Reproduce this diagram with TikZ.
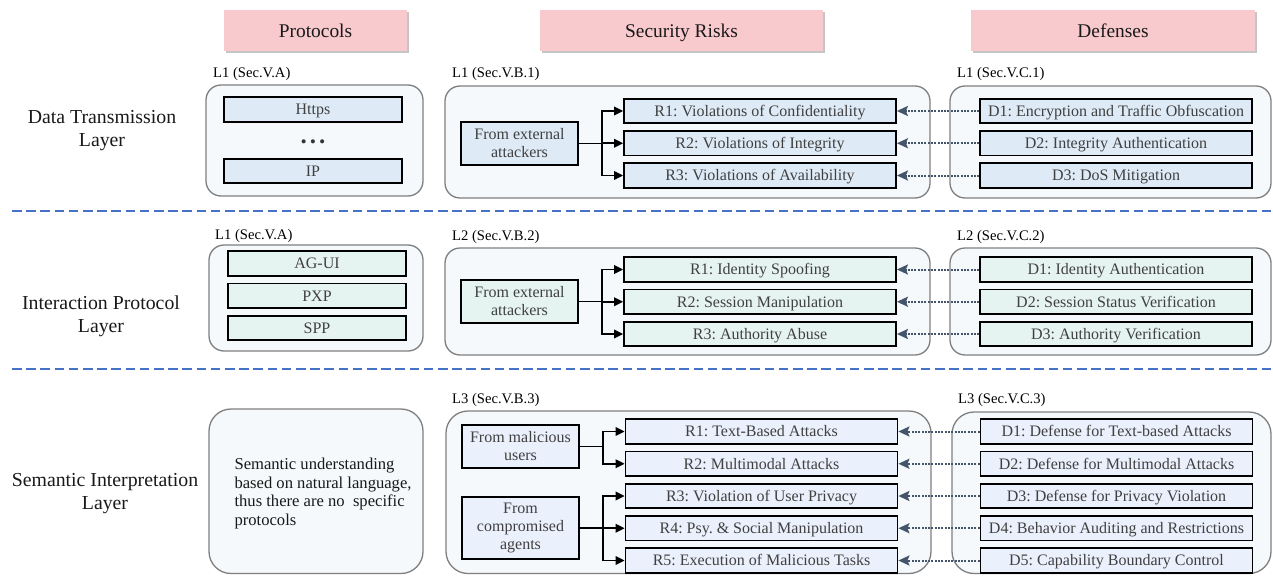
\documentclass[tikz,border=0pt]{standalone}
\usepackage{fontspec}
\setmainfont{Liberation Serif}
\usepackage{xcolor}
\usepackage{tikz}
\usetikzlibrary{arrows.meta}
\usetikzlibrary{shadows}
\frenchspacing

\definecolor{headpink}{HTML}{F8C9CD}
\definecolor{fillA}{HTML}{DEEBF7}
\definecolor{fillB}{HTML}{E6F4F1}
\definecolor{fillC}{HTML}{EAF0FC}
\definecolor{grpfill}{HTML}{F5F9FC}
\definecolor{grpline}{HTML}{7F7F7F}
\definecolor{txtgray}{HTML}{404040}
\definecolor{slate}{HTML}{44546A}
\definecolor{sepblue}{HTML}{4472C4}

\newcommand{\boxfont}{\fontsize{16}{18}\selectfont}
\newcommand{\headfont}{\fontsize{19.4}{23}\selectfont}
\newcommand{\layerfont}{\fontsize{19.8}{23}\selectfont}
\newcommand{\secfont}{\fontsize{14.6}{17}\selectfont}
\newcommand{\notefont}{\fontsize{16.6}{18.5}\selectfont}

\tikzstyle{head} = [rectangle, fill=headpink, minimum height=41pt, text=black!90, font=\headfont,
    text height=15.5pt, text depth=2pt,
    drop shadow={shadow xshift=2pt, shadow yshift=-2pt, fill=black!45, opacity=.5}]
\tikzstyle{grp} = [rectangle, draw=grpline, line width=1.3pt, fill=grpfill, rounded corners=15pt]
\tikzstyle{item} = [rectangle, draw, line width=1.8pt, minimum height=24.5pt, inner sep=2pt,
    text=txtgray, font=\boxfont]
\tikzstyle{proto} = [item, minimum width=178pt, text height=12.5pt, text depth=2pt]
\tikzstyle{risk} = [item, minimum width=272pt, text height=12.5pt, text depth=2pt]
\tikzstyle{src} = [item, minimum width=117pt, minimum height=43pt, align=center]
\tikzstyle{layerlbl} = [align=center, text=black!90, font=\layerfont]
\tikzstyle{seclbl} = [anchor=west, inner sep=0pt, font=\secfont]
\tikzstyle{branch} = [draw, line width=1.8pt, -{Triangle[length=9pt,width=8.5pt]}]
\tikzstyle{counter} = [draw=slate, line width=2pt, dash pattern=on 2pt off 1.3pt,
    -{Stealth[length=11pt,width=10pt,inset=2pt]}]
\tikzstyle{sep} = [draw=sepblue, line width=2.8pt, dash pattern=on 9.5pt off 4.7pt]

\begin{document}
\begin{tikzpicture}[x=1pt, y=-1pt, node distance=32.25pt]
  \useasboundingbox (0,0) rectangle (1273,575);
  % headers
  \node [head, minimum width=183pt](hproto) at (315.5,30.5) {Protocols};
  \node [head, minimum width=283pt](hrisk) at (681.5,30.5) {Security Risks};
  \node [head, minimum width=284pt](hdef) at (1113,30.5) {Defenses};
  % separators
  \path [sep] (12,211) -- (1273,211);
  \path [sep] (12,369) -- (1273,369);

  % layer 1
  \node [layerlbl](lay1) at (102,131) {Data Transmission\\Layer};
  \node [seclbl](s11) at (213,74) {L1 (Sec.V.A)};
  \node [seclbl](s12) at (452,74) {L1 (Sec.V.B.1)};
  \node [seclbl](s13) at (957,74) {L1 (Sec.V.C.1)};
  \node [grp, minimum width=217pt, minimum height=111pt](p1) at (314.5,140.5) {};
  \node [grp, minimum width=485pt, minimum height=112pt](g1) at (687.5,142) {};
  \node [grp, minimum width=321pt, minimum height=112pt](e1) at (1110.5,142) {};
  \node [proto, fill=fillA](https) at (313,109.5) {Https};
  \node [text=black!80, font=\bfseries\fontsize{25}{25}\selectfont](dots) at (313,142) {.\kern3pt.\kern3pt.};
  \node [proto, fill=fillA](ip) at (313,171) {IP};
  \node [src, fill=fillA](ext1) at (519.5,143.5) {From external\\attackers};
  \node [risk, fill=fillA](r11) at (760,111) {R1: Violations of Confidentiality};
  \node [risk, fill=fillA, below of=r11](r12) {R2: Violations of Integrity};
  \node [risk, fill=fillA, below of=r12](r13) {R3: Violations of Availability};
  \node [risk, fill=fillA](d11) at (1116,111) {D1: Encryption and Traffic Obfuscation};
  \node [risk, fill=fillA, below of=d11](d12) {D2: Integrity Authentication};
  \node [risk, fill=fillA, below of=d12](d13) {D3: DoS Mitigation};
  \path [branch] (ext1.east) -- ++(23,0) |- (r11.west);
  \path [branch] (ext1.east) -- ++(23,0) |- (r12.west);
  \path [branch] (ext1.east) -- ++(23,0) |- (r13.west);
  \path [counter] (d11.west) -- (r11.east);
  \path [counter] (d12.west) -- (r12.east);
  \path [counter] (d13.west) -- (r13.east);

  % layer 2
  \node [layerlbl](lay2) at (101,316) {Interaction Protocol\\Layer};
  \node [seclbl](s21) at (215,236) {L1 (Sec.V.A)};
  \node [seclbl](s22) at (452,237) {L2 (Sec.V.B.2)};
  \node [seclbl](s23) at (957,237) {L2 (Sec.V.C.2)};
  \node [grp, minimum width=214pt, minimum height=106pt](p2) at (316,298) {};
  \node [grp, minimum width=485pt, minimum height=107pt](g2) at (687.5,301.5) {};
  \node [grp, minimum width=321pt, minimum height=107pt](e2) at (1110.5,301.5) {};
  \node [proto, fill=fillB](agui) at (317,263.5) {AG-UI};
  \node [proto, fill=fillB, below of=agui](pxp) {PXP};
  \node [proto, fill=fillB, below of=pxp](spp) {SPP};
  \node [src, fill=fillB](ext2) at (519.5,301.5) {From external\\attackers};
  \node [risk, fill=fillB](r21) at (760,269.5) {R1: Identity Spoofing};
  \node [risk, fill=fillB, below of=r21](r22) {R2: Session Manipulation};
  \node [risk, fill=fillB, below of=r22](r23) {R3: Authority Abuse};
  \node [risk, fill=fillB](d21) at (1116,269.5) {D1: Identity Authentication};
  \node [risk, fill=fillB, below of=d21](d22) {D2: Session Status Verification};
  \node [risk, fill=fillB, below of=d22](d23) {D3: Authority Verification};
  \path [branch] (ext2.east) -- ++(23,0) |- (r21.west);
  \path [branch] (ext2.east) -- ++(23,0) |- (r22.west);
  \path [branch] (ext2.east) -- ++(23,0) |- (r23.west);
  \path [counter] (d21.west) -- (r21.east);
  \path [counter] (d22.west) -- (r22.east);
  \path [counter] (d23.west) -- (r23.east);

  % layer 3
  \node [layerlbl](lay3) at (105,494) {Semantic Interpretation\\Layer};
  \node [seclbl](s32) at (452,400) {L3 (Sec.V.B.3)};
  \node [seclbl](s33) at (958,400) {L3 (Sec.V.C.3)};
  \node [grp, rounded corners=22pt, minimum width=214pt, minimum height=164.5pt](p3) at (316,491.25) {};
  \node [grp, rounded corners=22pt, minimum width=485pt, minimum height=162.5pt](g3) at (688.5,492.25) {};
  \node [grp, rounded corners=22pt, minimum width=319pt, minimum height=161.5pt](e3) at (1111.5,492.75) {};
  \node [anchor=west, align=left, text=black!90, font=\notefont](note) at (231,493.5)
    {Semantic understanding\\based on natural language,\\thus there are no~ specific\\protocols};
  \node [src, fill=fillC](mal) at (520.5,446.5) {From malicious\\users};
  \node [src, fill=fillC, minimum height=62pt](comp) at (520.5,528) {From\\compromised\\agents};
  \node [risk, fill=fillC](r31) at (761.5,431.5) {R1: Text-Based Attacks};
  \node [risk, fill=fillC, below of=r31](r32) {R2: Multimodal Attacks};
  \node [risk, fill=fillC, below of=r32](r33) {R3: Violation of User Privacy};
  \node [risk, fill=fillC, below of=r33](r34) {R4: Psy. \& Social Manipulation};
  \node [risk, fill=fillC, below of=r34](r35) {R5: Execution of Malicious Tasks};
  \node [risk, fill=fillC](d31) at (1116.5,431.5) {D1: Defense for Text-based Attacks};
  \node [risk, fill=fillC, below of=d31](d32) {D2: Defense for Multimodal Attacks};
  \node [risk, fill=fillC, below of=d32](d33) {D3: Defense for Privacy Violation};
  \node [risk, fill=fillC, below of=d33](d34) {D4: Behavior Auditing and Restrictions};
  \node [risk, fill=fillC, below of=d34](d35) {D5: Capability Boundary Control};
  \path [branch] (mal.east) -- ++(23,0) |- (r31.west);
  \path [branch] (mal.east) -- ++(23,0) |- (r32.west);
  \path [branch] (comp.east) -- ++(23,0) |- (r33.west);
  \path [branch] (comp.east) -- ++(23,0) |- (r34.west);
  \path [branch] (comp.east) -- ++(23,0) |- (r35.west);
  \path [counter] (d31.west) -- (r31.east);
  \path [counter] (d32.west) -- (r32.east);
  \path [counter] (d33.west) -- (r33.east);
  \path [counter] (d34.west) -- (r34.east);
  \path [counter] (d35.west) -- (r35.east);
\end{tikzpicture}
\end{document}
